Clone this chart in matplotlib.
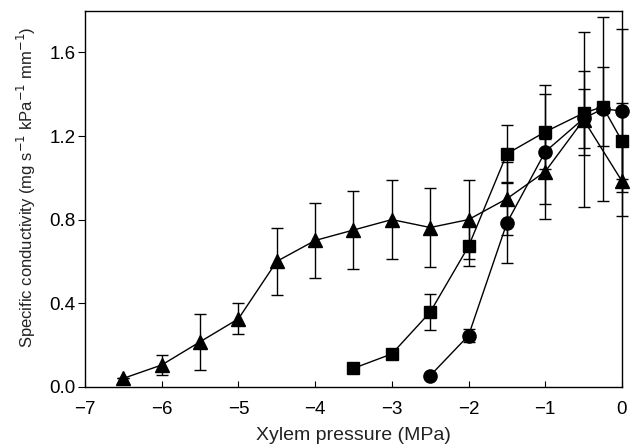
import matplotlib
matplotlib.use('Agg')
import matplotlib.pyplot as plt
import numpy as np

plt.rcParams['font.family'] = ['Liberation Sans', 'DejaVu Sans']

# data
x_tri = [-6.5, -6, -5.5, -5, -4.5, -4, -3.5, -3, -2.5, -2, -1.5, -1, -0.5, 0]
y_tri = [0.04, 0.104, 0.215, 0.325, 0.60, 0.70, 0.75, 0.80, 0.762, 0.80, 0.90, 1.03, 1.278, 0.984]
e_tri = [0.0, 0.05, 0.135, 0.075, 0.16, 0.18, 0.185, 0.19, 0.19, 0.19, 0.175, 0.155, 0.42, 0.168]

x_sq = [-3.5, -3, -2.5, -2, -1.5, -1, -0.5, -0.25, 0]
y_sq = [0.088, 0.157, 0.357, 0.672, 1.115, 1.22, 1.31, 1.34, 1.176]
e_sq = [0.0, 0.02, 0.087, 0.095, 0.137, 0.18, 0.20, 0.19, 0.18]

x_ci = [-2.5, -2, -1.5, -1, -0.5, -0.25, 0]
y_ci = [0.053, 0.245, 0.784, 1.125, 1.284, 1.33, 1.32]
e_ci = [0.0, 0.03, 0.19, 0.32, 0.14, 0.44, 0.39]

xticks = [-7, -6, -5, -4, -3, -2, -1, 0]
yticks = [0.0, 0.4, 0.8, 1.2, 1.6]

fig = plt.figure(figsize=(6.31, 4.45), dpi=100)
ax = fig.add_axes([0.1347, 0.131, 0.851, 0.845])

common = dict(color='black', ecolor='black', elinewidth=1.0, capsize=4.5,
              capthick=1.0, linewidth=1.0, markeredgecolor='black')
for xs, ys, es, mk, ms in [(x_tri, y_tri, e_tri, '^', 10),
                           (x_sq, y_sq, e_sq, 's', 8.5),
                           (x_ci, y_ci, e_ci, 'o', 9.5)]:
    line, caps, bars = ax.errorbar(xs, ys, yerr=es, marker=mk, markersize=ms, **common)
    line.set_clip_on(False)
    for c in caps:
        c.set_clip_on(False)
    for b in bars:
        b.set_clip_on(False)

ax.set_xlim(-7, 0)
ax.set_ylim(0, 1.8)
ax.set_xticks(xticks)
ax.set_yticks(yticks)
ax.set_yticklabels(['%.1f' % v for v in yticks])
ax.tick_params(axis='x', direction='in', length=4, labelsize=13.5, pad=10)
ax.tick_params(axis='y', direction='out', length=5, labelsize=13.5, pad=2)
for s in ax.spines.values():
    s.set_linewidth(1.0)

ax.set_xlabel('Xylem pressure (MPa)', fontsize=14, color='#222222', labelpad=7)
ax.set_ylabel('Specific conductivity (mg s$^{-1}$ kPa$^{-1}$ mm$^{-1}$)',
              fontsize=12, color='#222222')
ax.yaxis.set_label_coords(-0.088, 0.53)

fig.savefig('out.png', dpi=100)
